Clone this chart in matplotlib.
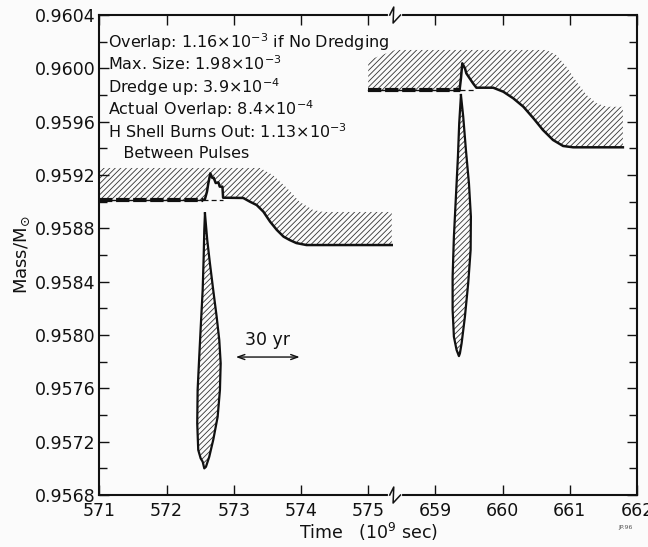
import numpy as np
import matplotlib
matplotlib.use("Agg")
import matplotlib.pyplot as plt

# time axis is broken: the second pulse (659..662) is shifted left by this much
BREAK_SHIFT = 83.0
BREAK_AT = 575.4

x_ticks = [571, 572, 573, 574, 575, 659, 660, 661, 662]
y_major = [0.9568, 0.9572, 0.9576, 0.9580, 0.9584, 0.9588, 0.9592, 0.9596, 0.9600, 0.9604]
y_minor = [0.9570, 0.9574, 0.9578, 0.9582, 0.9586, 0.9590, 0.9594, 0.9598, 0.9602]

# ---- first pulse (t ~ 572.6) ----
# bottom of the H-rich envelope (solid line), bold-dashed before the pulse
p1_pre_t = [571.0, 572.54]
p1_pre_m = [0.959013, 0.959013]
p1_line_t = [572.54, 572.57, 572.60, 572.62, 572.65, 572.68, 572.70, 572.73, 572.77, 572.79, 572.83, 572.84,
             573.14, 573.24, 573.34, 573.44, 573.54, 573.64, 573.74, 573.83, 573.93, 574.08, 575.35]
p1_line_m = [0.959013, 0.959020, 0.959075, 0.959138, 0.959213, 0.959178, 0.959180, 0.959140, 0.959145, 0.959113,
             0.959113, 0.959030, 0.959028, 0.959000, 0.958975, 0.958925, 0.958850, 0.958788, 0.958738, 0.958713,
             0.958690, 0.958675, 0.958675]
p1_top_t = [571.0, 573.39, 573.58, 573.79, 573.98, 574.18, 574.33, 575.35]
p1_top_m = [0.959253, 0.959253, 0.959200, 0.959103, 0.958998, 0.958938, 0.958923, 0.958923]
p1_dredge_t = [572.54, 572.84]
p1_dredge_m = [0.959013, 0.959013]
# intershell convective zone
p1_conv_t = [572.570, 572.604, 572.644, 572.693, 572.744, 572.783, 572.804, 572.793, 572.759, 572.693, 572.634,
             572.585, 572.560, 572.536, 572.506, 572.470, 572.455, 572.461, 572.485, 572.510, 572.536, 572.551,
             572.560, 572.570]
p1_conv_m = [0.958913, 0.958713, 0.958538, 0.958338, 0.958138, 0.957963, 0.957788, 0.957588, 0.957387, 0.957213,
             0.957087, 0.957012, 0.957000, 0.957050, 0.957075, 0.957138, 0.957338, 0.957588, 0.957838, 0.958088,
             0.958338, 0.958588, 0.958788, 0.958913]

# ---- second pulse (t ~ 659.4) ----
p2_pre_t = [658.0, 659.36]
p2_pre_m = [0.959838, 0.959838]
p2_line_t = [659.36, 659.38, 659.40, 659.44, 659.46, 659.51, 659.56, 659.61,
             659.86, 660.01, 660.16, 660.31, 660.46, 660.60, 660.75, 660.90, 661.05, 661.79]
p2_line_m = [0.959838, 0.959925, 0.960038, 0.960000, 0.959963, 0.959925, 0.959888, 0.959855,
             0.959855, 0.959825, 0.959775, 0.959712, 0.959625, 0.959538, 0.959463, 0.959418, 0.959408, 0.959408]
p2_top_t = [658.0, 658.4, 660.65, 660.80, 660.95, 661.10, 661.25, 661.40, 661.55, 661.79]
p2_top_m = [0.960060, 0.960138, 0.960138, 0.960100, 0.960012, 0.959900, 0.959800, 0.959738, 0.959712, 0.959712]
p2_dredge_t = [659.36, 659.61]
p2_dredge_m = [0.959838, 0.959838]
p2_conv_t = [659.380, 659.414, 659.454, 659.499, 659.528, 659.524, 659.488, 659.439, 659.390, 659.365, 659.350,
             659.315, 659.275, 659.256, 659.256, 659.275, 659.305, 659.335, 659.354, 659.380]
p2_conv_m = [0.959800, 0.959637, 0.959388, 0.959138, 0.958887, 0.958638, 0.958388, 0.958137, 0.957938, 0.957863,
             0.957842, 0.957888, 0.957987, 0.958188, 0.958437, 0.958737, 0.959037, 0.959337, 0.959588, 0.959800]

notes = [r"Overlap: 1.16$\times$10$^{-3}$ if No Dredging",
         r"Max. Size: 1.98$\times$10$^{-3}$",
         r"Dredge up: 3.9$\times$10$^{-4}$",
         r"Actual Overlap: 8.4$\times$10$^{-4}$",
         r"H Shell Burns Out: 1.13$\times$10$^{-3}$",
         "   Between Pulses"]

span_t = [573.03, 573.98]   # 30 yr
span_m = 0.957835


def tx(t):
    t = np.asarray(t, dtype=float)
    return np.where(t > 600, t - BREAK_SHIFT, t)


ink = "#111111"
bg = "#fbfbfb"
plt.rcParams["hatch.linewidth"] = 0.6
plt.rcParams["font.family"] = "DejaVu Sans"

fig = plt.figure(figsize=(6.48, 5.47), dpi=100, facecolor=bg)
ax = fig.add_axes([0.1535, 0.095, 0.8295, 0.8775])
ax.set_facecolor(bg)

for top_t, top_m, ln_t, ln_m, pre_t, pre_m, dr_t, dr_m, cv_t, cv_m in [
        (p1_top_t, p1_top_m, p1_line_t, p1_line_m, p1_pre_t, p1_pre_m, p1_dredge_t, p1_dredge_m, p1_conv_t, p1_conv_m),
        (p2_top_t, p2_top_m, p2_line_t, p2_line_m, p2_pre_t, p2_pre_m, p2_dredge_t, p2_dredge_m, p2_conv_t, p2_conv_m)]:
    full_t = np.concatenate([pre_t, ln_t])
    full_m = np.concatenate([pre_m, ln_m])
    # hatched envelope between the top edge and the line
    ax.fill(np.concatenate([tx(top_t), tx(full_t)[::-1]]), np.concatenate([top_m, full_m[::-1]]),
            facecolor="none", edgecolor="#333333", hatch="//////", linewidth=0)
    ax.plot(tx(pre_t), pre_m, color=ink, lw=1.0)
    ax.plot(tx(pre_t), pre_m, color=ink, lw=3.0, linestyle=(0, (3.2, 0.9)), solid_capstyle="butt")
    ax.plot(tx(ln_t), ln_m, color=ink, lw=1.8)
    ax.plot(tx(dr_t), dr_m, color=ink, lw=0.9, linestyle=(0, (4, 2.5)))
    ax.fill(tx(cv_t), cv_m, facecolor="none", edgecolor="#333333", hatch="//////", linewidth=0)
    ax.plot(tx(cv_t), cv_m, color=ink, lw=1.6)

ax.set_xlim(571, 579)
ax.set_ylim(0.9568, 0.9604)
ax.set_xticks(tx(x_ticks))
ax.set_xticklabels([str(t) for t in x_ticks])
ax.set_yticks(y_major)
ax.set_yticklabels([f"{v:.4f}" for v in y_major])
ax.set_yticks(y_minor, minor=True)
ax.tick_params(which="both", direction="in", top=True, right=True, colors=ink, width=1.0, labelsize=12.5)
ax.tick_params(which="major", length=7)
ax.tick_params(which="minor", length=6)
ax.tick_params(axis="x", pad=5)
ax.tick_params(axis="y", pad=3)
for s in ax.spines.values():
    s.set_linewidth(1.5)
    s.set_color(ink)

# axis-break marks on top and bottom spines
for yb in [0.9568, 0.9604]:
    d = 0.00006
    ax.plot([BREAK_AT - 0.08, BREAK_AT + 0.08], [yb, yb], color=bg, lw=3, clip_on=False, zorder=5)
    ax.plot([BREAK_AT - 0.08, BREAK_AT - 0.02, BREAK_AT - 0.03, BREAK_AT + 0.08],
            [yb, yb + d, yb - d, yb], color=ink, lw=1.1, clip_on=False, zorder=6)

ax.set_xlabel(r"Time   (10$^9$ sec)", fontsize=12.5, labelpad=1, color=ink)
ax.set_ylabel(r"Mass/M$_{\odot}$", fontsize=13, labelpad=2, color=ink)

ys = [0.931, 0.885, 0.8375, 0.792, 0.744, 0.702]
for txt, yy in zip(notes, ys):
    ax.text(0.016, yy, txt, transform=ax.transAxes, fontsize=11.5, color=ink, va="baseline")

ax.annotate("", xy=(span_t[0], span_m), xytext=(span_t[1], span_m),
            arrowprops=dict(arrowstyle="<->, head_length=0.5, head_width=0.18", color=ink, lw=1.0,
                            shrinkA=0, shrinkB=0))
ax.text(np.mean(span_t), span_m + 0.00009, "30 yr", ha="center", va="baseline", fontsize=12.5, color=ink)

fig.text(0.965, 0.032, "JP.96", fontsize=4.5, color="#555555", ha="center")

fig.savefig("out.png", dpi=100, facecolor=fig.get_facecolor())
